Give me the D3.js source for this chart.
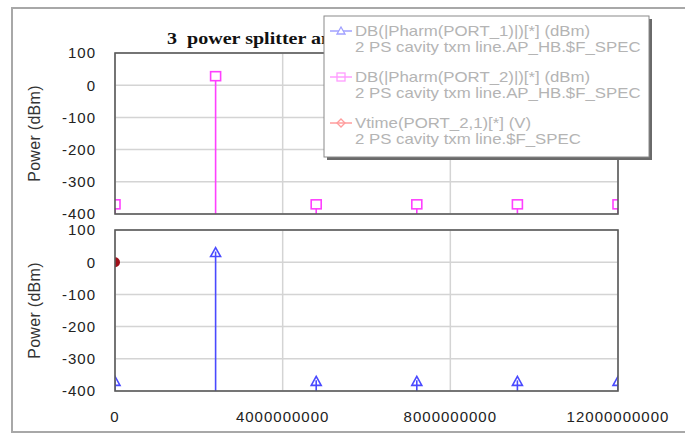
<!DOCTYPE html>
<html>
<head>
<meta charset="utf-8">
<script src="https://cdn.jsdelivr.net/npm/d3@7/dist/d3.min.js"></script>
<style>
  html, body { margin: 0; padding: 0; background: #fff; }
  svg { display: block; }
  .tick-label { font-family: "Liberation Sans", Arial, sans-serif; font-size: 15px; letter-spacing: 1px; fill: #222; }
  .axis-title { font-family: "Liberation Sans", Arial, sans-serif; font-size: 16px; letter-spacing: 0.3px; fill: #333; }
  .legend-text { font-family: "Liberation Sans", Arial, sans-serif; font-size: 14px; fill: #b4b4b4; }
  .title { white-space: pre; }
</style>
</head>
<body>
<svg id="chart" width="685" height="435"></svg>
<script>
// Harmonic frequencies (Hz) of the harmonic-balance spectrum
const freqs = [0, 2.4e9, 4.8e9, 7.2e9, 9.6e9, 12e9];
// Output power at PORT_2 (dBm), upper panel
const port2Power = [-370, 28, -370, -370, -370, -370];
// Input power at PORT_1 (dBm), lower panel
const port1Power = [-370, 30, -370, -370, -370, -370];
// Vtime(PORT_2,1) sample shown on the lower panel
const vtimeX = [0];
const vtimeY = [0];

const yTicks = [100, 0, -100, -200, -300, -400];
const xTicks = [0, 4e9, 8e9, 12e9];
const xTickLabels = ["0", "4000000000", "8000000000", "12000000000"];

const titleText = "3  power splitter and";
const yTitle = "Power (dBm)";
const legendItems = [
  { line1: "DB(|Pharm(PORT_1)|)[*] (dBm)", line2: "2 PS cavity txm line.AP_HB.$F_SPEC", color: "#a0a0ff", shape: "triangle" },
  { line1: "DB(|Pharm(PORT_2)|)[*] (dBm)", line2: "2 PS cavity txm line.AP_HB.$F_SPEC", color: "#ff9cff", shape: "square" },
  { line1: "Vtime(PORT_2,1)[*] (V)", line2: "2 PS cavity txm line.$F_SPEC", color: "#ff9c9c", shape: "diamond" }
];

const svg = d3.select("#chart");

// outer frame
svg.append("rect")
  .attr("x", 12).attr("y", 8).attr("width", 700).attr("height", 424)
  .attr("fill", "none").attr("stroke", "#a8a8a8").attr("stroke-width", 2);

const plotLeft = 115, plotRight = 618;
const x = d3.scaleLinear().domain([0, 12e9]).range([plotLeft, plotRight]);

function trianglePath(cx, cy) {
  return `M${cx},${cy - 5}L${cx + 5},${cy + 4}L${cx - 5},${cy + 4}Z`;
}

function drawPanel(id, top, bottom, values, color, shape, extra) {
  const y = d3.scaleLinear().domain([-400, 100]).range([bottom, top]);
  const g = svg.append("g");

  g.append("clipPath").attr("id", id)
    .append("rect").attr("x", plotLeft).attr("y", top - 1)
    .attr("width", plotRight - plotLeft).attr("height", bottom - top + 2);

  // grid lines
  g.append("g").selectAll("line").data(yTicks).join("line")
    .attr("x1", plotLeft).attr("x2", plotRight)
    .attr("y1", d => y(d)).attr("y2", d => y(d))
    .attr("stroke", "#d4d4d4").attr("stroke-width", 1.5);
  g.append("g").selectAll("line").data(xTicks).join("line")
    .attr("x1", d => x(d)).attr("x2", d => x(d))
    .attr("y1", top).attr("y2", bottom)
    .attr("stroke", "#d4d4d4").attr("stroke-width", 1.5);

  // y tick labels
  g.append("g").selectAll("text").data(yTicks).join("text")
    .attr("class", "tick-label")
    .attr("x", 96).attr("y", d => y(d)).attr("dy", "0.36em")
    .attr("text-anchor", "end")
    .text(d => d);

  // y axis title
  g.append("text").attr("class", "axis-title")
    .attr("transform", `translate(40,${(top + bottom) / 2}) rotate(-90)`)
    .attr("text-anchor", "middle")
    .text(yTitle);

  const marks = g.append("g").attr("clip-path", `url(#${id})`);

  // stems
  marks.selectAll("line.stem").data(freqs).join("line")
    .attr("class", "stem")
    .attr("x1", d => x(d)).attr("x2", d => x(d))
    .attr("y1", (d, i) => y(values[i])).attr("y2", y(-400))
    .attr("stroke", color).attr("stroke-width", 1.6);

  // markers
  if (shape === "square") {
    marks.selectAll("rect.mk").data(freqs).join("rect")
      .attr("class", "mk")
      .attr("x", d => x(d) - 5).attr("y", (d, i) => y(values[i]) - 4.5)
      .attr("width", 10).attr("height", 9)
      .attr("fill", "#fff").attr("stroke", color).attr("stroke-width", 1.6);
  } else {
    marks.selectAll("path.mk").data(freqs).join("path")
      .attr("class", "mk")
      .attr("d", (d, i) => trianglePath(x(d), y(values[i])))
      .attr("fill", "#fff").attr("stroke", color).attr("stroke-width", 1.6);
    marks.selectAll("line.inner").data(freqs).join("line")
      .attr("class", "inner")
      .attr("x1", d => x(d)).attr("x2", d => x(d))
      .attr("y1", (d, i) => y(values[i]) - 1).attr("y2", (d, i) => y(values[i]) + 4)
      .attr("stroke", color).attr("stroke-width", 1.6);
  }
  if (extra) extra(marks, y);

  // plot border
  g.append("rect")
    .attr("x", plotLeft).attr("y", top)
    .attr("width", plotRight - plotLeft).attr("height", bottom - top)
    .attr("fill", "none").attr("stroke", "#5a5a5a").attr("stroke-width", 1.6);
  return y;
}

// title (its tail sits behind the legend box); glyphs are drawn slightly wide
svg.append("g")
  .attr("transform", "translate(167,44) scale(1.18,1)")
  .append("text")
  .attr("class", "title")
  .attr("x", 0).attr("y", 0)
  .attr("font-family", "'Liberation Serif', 'Times New Roman', serif")
  .attr("font-weight", "bold").attr("font-size", 17)
  .attr("fill", "#111")
  .text(titleText);

drawPanel("clipTop", 53, 214, port2Power, "#ff40ff", "square");
drawPanel("clipBottom", 230, 391, port1Power, "#4a4aff", "triangle", (marks, y) => {
  marks.selectAll("circle.vt").data(vtimeX).join("circle")
    .attr("class", "vt")
    .attr("cx", d => x(d)).attr("cy", (d, i) => y(vtimeY[i]))
    .attr("r", 5).attr("fill", "#a0101a");
});

// x tick labels
svg.append("g").selectAll("text").data(xTicks).join("text")
  .attr("class", "tick-label")
  .attr("x", d => x(d)).attr("y", 422)
  .attr("text-anchor", "middle")
  .text((d, i) => xTickLabels[i]);

// legend
const lg = svg.append("g");
lg.append("rect").attr("x", 327).attr("y", 19).attr("width", 325).attr("height", 141)
  .attr("fill", "#6a6a6a");
lg.append("rect").attr("x", 324).attr("y", 16).attr("width", 325).attr("height", 141)
  .attr("fill", "#fff").attr("stroke", "#8a8a8a").attr("stroke-width", 1);

legendItems.forEach((item, i) => {
  const base = 36 + i * 46;
  const cy = base - 5;
  lg.append("line").attr("x1", 330).attr("x2", 352).attr("y1", cy).attr("y2", cy)
    .attr("stroke", item.color).attr("stroke-width", 1.5);
  if (item.shape === "triangle") {
    lg.append("path").attr("d", `M341,${cy - 4}L345,${cy + 3}L337,${cy + 3}Z`)
      .attr("fill", "#fff").attr("stroke", item.color).attr("stroke-width", 1.3);
  } else if (item.shape === "square") {
    lg.append("rect").attr("x", 337).attr("y", cy - 4).attr("width", 8).attr("height", 8)
      .attr("fill", "none").attr("stroke", item.color).attr("stroke-width", 1.3);
  } else {
    lg.append("path").attr("d", `M341,${cy - 4}L345,${cy}L341,${cy + 4}L337,${cy}Z`)
      .attr("fill", "none").attr("stroke", item.color).attr("stroke-width", 1.3);
  }
  const tg = lg.append("g").attr("transform", `translate(355,${base}) scale(1.2,1)`);
  tg.append("text").attr("class", "legend-text").attr("x", 0).attr("y", 0).text(item.line1);
  tg.append("text").attr("class", "legend-text").attr("x", 0).attr("y", 16).text(item.line2);
});
</script>
</body>
</html>
